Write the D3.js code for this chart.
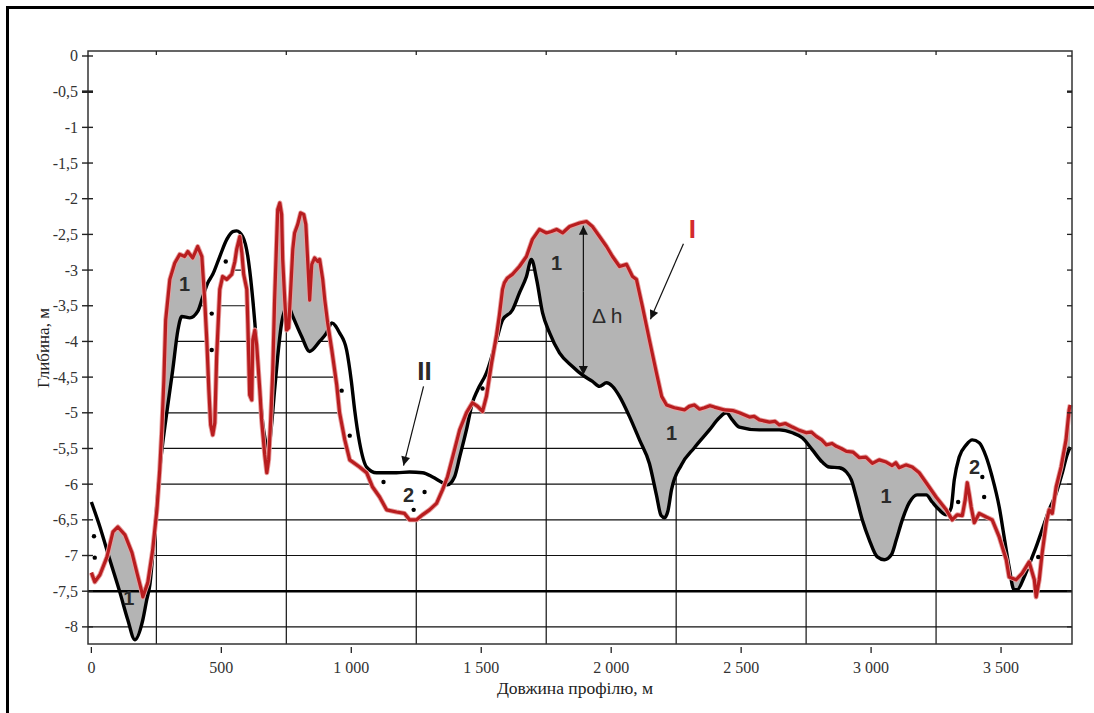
<!DOCTYPE html>
<html>
<head>
<meta charset="utf-8">
<script src="https://cdn.jsdelivr.net/npm/d3@7"></script>
<style>
body { margin: 0; background: #fff; }
text.serif { font-family: "Liberation Serif", "Times New Roman", "DejaVu Serif", serif; }
text.sans { font-family: "Liberation Sans", Arial, "DejaVu Sans", sans-serif; }
</style>
</head>
<body>
<div id="chart"></div>
<script>
// Bottom profile II (black): [distance, m ; depth, m]
var profileII = [
    [0, -6.25], [33, -6.6], [71, -7.06], [110, -7.52], [140, -7.9], [167, -8.18], [198, -7.9],
    [213, -7.62], [225, -7.41], [244, -6.64], [263, -5.8], [290, -5.0], [313, -4.4], [333, -3.84],
    [348, -3.65], [379, -3.67], [409, -3.58], [429, -3.37], [448, -3.18], [467, -3.06], [494, -2.81],
    [521, -2.57], [544, -2.46], [559, -2.45], [582, -2.53], [602, -2.81], [609, -3.0], [629, -3.74],
    [648, -4.68], [659, -5.14], [671, -5.42], [679, -5.56], [694, -5.14], [705, -4.68], [717, -4.21],
    [732, -3.74], [744, -3.56], [755, -3.49], [775, -3.65], [809, -3.93], [840, -4.14], [878, -4.0],
    [905, -3.88], [925, -3.74], [955, -3.88], [982, -4.12], [1000, -4.55], [1013, -4.96], [1032, -5.42],
    [1059, -5.76], [1097, -5.84], [1174, -5.84], [1224, -5.83], [1274, -5.84], [1313, -5.9],
    [1351, -5.98], [1370, -6.01], [1397, -5.9], [1417, -5.62], [1443, -5.24], [1466, -4.86],
    [1486, -4.68], [1520, -4.44], [1559, -3.98], [1582, -3.7], [1620, -3.56], [1647, -3.32],
    [1674, -3.09], [1693, -2.85], [1713, -3.13], [1736, -3.6], [1763, -3.88], [1801, -4.16],
    [1851, -4.35], [1889, -4.47], [1928, -4.56], [1955, -4.63], [1982, -4.58], [2005, -4.63],
    [2032, -4.77], [2070, -5.05], [2109, -5.38], [2147, -5.71], [2174, -6.15], [2192, -6.44],
    [2205, -6.47], [2218, -6.38], [2232, -6.08], [2270, -5.73], [2320, -5.49], [2378, -5.24], [2416, -5.07],
    [2443, -5.0], [2466, -5.1], [2493, -5.2], [2570, -5.24], [2647, -5.24], [2697, -5.28],
    [2735, -5.35], [2774, -5.52], [2812, -5.69], [2839, -5.76], [2878, -5.77], [2905, -5.83],
    [2924, -5.94], [2943, -6.18], [2966, -6.5], [2993, -6.78], [3024, -7.02], [3051, -7.06],
    [3078, -6.99], [3097, -6.78], [3120, -6.5], [3147, -6.26], [3177, -6.15], [3212, -6.15],
    [3235, -6.25], [3262, -6.36], [3289, -6.43], [3308, -6.33], [3320, -5.94], [3339, -5.62],
    [3366, -5.45], [3389, -5.38], [3416, -5.42], [3443, -5.62], [3466, -5.9], [3493, -6.32],
    [3512, -6.74], [3531, -7.16], [3550, -7.48], [3562, -7.48], [3589, -7.3], [3608, -7.13],
    [3635, -6.88], [3658, -6.64], [3685, -6.36], [3712, -6.13], [3735, -5.85], [3754, -5.59],
    [3766, -5.48]
];

// Bottom profile I (red)
var profileI = [
    [0, -7.24], [13, -7.37], [33, -7.27], [60, -7.02], [83, -6.67], [102, -6.6], [129, -6.71],
    [156, -6.96], [175, -7.24], [194, -7.51], [198, -7.58], [217, -7.38], [236, -6.92], [252, -6.36],
    [263, -5.8], [271, -5.24], [279, -4.54], [286, -3.7], [302, -3.13], [321, -2.9], [340, -2.78],
    [359, -2.81], [371, -2.74], [379, -2.78], [390, -2.83], [409, -2.67], [425, -2.81], [429, -3.04],
    [436, -3.42], [444, -3.98], [452, -4.68], [459, -5.17], [467, -5.31], [475, -5.14], [482, -4.21],
    [494, -3.27], [505, -3.09], [521, -3.13], [540, -3.06], [552, -2.88], [559, -2.71], [571, -2.53],
    [579, -2.76], [586, -3.06], [598, -3.27], [602, -3.74], [609, -4.75], [617, -4.82], [621, -3.98],
    [629, -3.84], [636, -4.05], [648, -4.68], [655, -5.1], [667, -5.59], [675, -5.84], [682, -5.66],
    [690, -5.1], [698, -4.4], [705, -3.42], [713, -2.57], [717, -2.15], [725, -2.06], [732, -2.22],
    [736, -2.85], [744, -3.42], [751, -3.84], [759, -3.81], [767, -3.27], [775, -2.71], [782, -2.48],
    [794, -2.36], [805, -2.2], [817, -2.22], [825, -2.36], [832, -2.85], [840, -3.42], [848, -2.92],
    [859, -2.83], [871, -2.88], [878, -2.85], [890, -3.13], [898, -3.42], [909, -3.74], [925, -4.12],
    [944, -4.61], [955, -5.0], [975, -5.38], [994, -5.66], [1032, -5.76], [1059, -5.84], [1082, -6.04],
    [1109, -6.18], [1136, -6.36], [1174, -6.39], [1205, -6.41], [1224, -6.5], [1251, -6.5],
    [1274, -6.43], [1301, -6.36], [1328, -6.27], [1351, -6.08], [1370, -5.9], [1390, -5.62],
    [1417, -5.24], [1443, -5.0], [1466, -4.86], [1486, -4.91], [1505, -4.98], [1520, -4.77],
    [1540, -4.3], [1559, -3.91], [1570, -3.63], [1582, -3.27], [1589, -3.18], [1601, -3.11],
    [1620, -3.06], [1647, -2.95], [1674, -2.81], [1697, -2.57], [1724, -2.43], [1751, -2.48],
    [1770, -2.46], [1790, -2.43], [1813, -2.48], [1840, -2.39], [1878, -2.34], [1905, -2.32],
    [1928, -2.39], [1955, -2.53], [1982, -2.67], [2005, -2.81], [2032, -2.95], [2059, -2.92],
    [2082, -3.09], [2097, -3.13], [2120, -3.51], [2147, -3.98], [2174, -4.44], [2194, -4.77],
    [2213, -4.89], [2243, -4.93], [2282, -4.96], [2300, -4.91], [2320, -4.89], [2340, -4.95],
    [2359, -4.93], [2380, -4.9], [2397, -4.92], [2436, -4.96], [2470, -4.97], [2493, -5.0],
    [2532, -5.06], [2550, -5.05], [2570, -5.1], [2609, -5.13], [2630, -5.12], [2647, -5.17],
    [2670, -5.15], [2697, -5.2], [2720, -5.24], [2751, -5.28], [2770, -5.27], [2789, -5.33],
    [2810, -5.38], [2828, -5.45], [2850, -5.43], [2866, -5.47], [2885, -5.5], [2905, -5.54],
    [2930, -5.55], [2955, -5.63], [2980, -5.62], [3005, -5.71], [3031, -5.66], [3058, -5.69],
    [3081, -5.74], [3095, -5.7], [3108, -5.77], [3135, -5.73], [3158, -5.76], [3185, -5.84],
    [3212, -5.98], [3250, -6.18], [3289, -6.36],
    [3312, -6.5], [3331, -6.43], [3351, -6.44], [3362, -6.22], [3370, -5.98], [3378, -6.15],
    [3385, -6.32], [3397, -6.54], [3416, -6.41], [3443, -6.46], [3466, -6.5], [3493, -6.74],
    [3520, -7.06], [3531, -7.3], [3558, -7.34], [3581, -7.25], [3608, -7.09], [3628, -7.34],
    [3635, -7.58], [3647, -7.34], [3658, -6.97], [3674, -6.54], [3685, -6.36], [3697, -6.41],
    [3712, -6.04], [3731, -5.76], [3750, -5.38], [3762, -4.96], [3766, -4.89]
];

// dots marking the zones of type 2
var zoneDots = [
    [10, -6.73], [13, -7.03], [463, -3.61], [463, -4.12], [517, -2.88], [963, -4.69], [994, -5.32],
    [1124, -5.97], [1282, -6.11], [1240, -6.36], [1505, -4.66], [3335, -6.25], [3428, -5.9],
    [3435, -6.18], [3643, -7.02]
];

// zone numbers
var zoneLabels = [
    [359, -3.2, "1"], [144, -7.59, "1"], [1790, -2.9, "1"], [2232, -5.29, "1"], [3058, -6.16, "1"],
    [1220, -6.15, "2"], [3398, -5.76, "2"]
];

var xTicks = [0, 500, 1000, 1500, 2000, 2500, 3000, 3500];
var xGrid = [250, 750, 1250, 1750, 2250, 2750, 3250];
var yTicks = [0, -0.5, -1, -1.5, -2, -2.5, -3, -3.5, -4, -4.5, -5, -5.5, -6, -6.5, -7, -7.5, -8];
var datumLevel = -7.5;

var width = 1094, height = 713;
var plotLeft = 88, plotRight = 1072, plotTop = 51, plotBottom = 644;

var x = d3.scaleLinear().domain([-13, 3773]).range([plotLeft, plotRight]);
var y = d3.scaleLinear().domain([0.07, -8.24]).range([plotTop, plotBottom]);

var svg = d3.select("#chart").append("svg")
    .attr("width", width)
    .attr("height", height);

// outer frame (top and left only)
svg.append("line").attr("x1", 6).attr("x2", width).attr("y1", 7.5).attr("y2", 7.5)
    .attr("stroke", "#000").attr("stroke-width", 3);
svg.append("line").attr("x1", 7.5).attr("x2", 7.5).attr("y1", 6).attr("y2", height)
    .attr("stroke", "#000").attr("stroke-width", 3);

// linear interpolation on a profile
function depthAt(series, m) {
    if (m <= series[0][0]) return series[0][1];
    var last = series[series.length - 1];
    if (m >= last[0]) return last[1];
    var i = d3.bisector(d => d[0]).right(series, m);
    var a = series[i - 1], b = series[i];
    var t = (m - a[0]) / (b[0] - a[0]);
    return a[1] + t * (b[1] - a[1]);
}

// common sample positions for filled zones and the grid clip
var samples = d3.range(-13, 3773, 2).concat([3773]);
var joined = samples.map(m => ({ m: m, b: depthAt(profileII, m), r: depthAt(profileI, m) }));

// grid only below both profiles
var clipArea = d3.area()
    .x(d => x(d.m))
    .y0(plotBottom)
    .y1(d => y(Math.min(d.b, d.r)));

svg.append("clipPath").attr("id", "belowClip")
    .append("path").attr("d", clipArea(joined));

var grid = svg.append("g").attr("clip-path", "url(#belowClip)")
    .attr("stroke", "#111").attr("stroke-width", 1.2);

grid.selectAll("line.h")
    .data(yTicks.filter(v => v !== datumLevel))
    .enter().append("line")
    .attr("class", "h")
    .attr("x1", plotLeft).attr("x2", plotRight)
    .attr("y1", d => y(d)).attr("y2", d => y(d));

grid.selectAll("line.v")
    .data(xGrid)
    .enter().append("line")
    .attr("class", "v")
    .attr("x1", d => x(d)).attr("x2", d => x(d))
    .attr("y1", plotTop).attr("y2", plotBottom);

// gray zones where profile I lies above profile II
var grayArea = d3.area()
    .x(d => x(d.m))
    .y0(d => y(d.b))
    .y1(d => y(Math.max(d.b, d.r)));

svg.append("path")
    .datum(joined.filter(d => d.m >= 0 && d.m <= 3766))
    .attr("d", grayArea)
    .attr("fill", "#b4b4b4");

// datum line
svg.append("line")
    .attr("x1", plotLeft).attr("x2", plotRight)
    .attr("y1", y(datumLevel)).attr("y2", y(datumLevel))
    .attr("stroke", "#000").attr("stroke-width", 2.6);

// profiles
var lineII = d3.line().x(d => x(d[0])).y(d => y(d[1])).curve(d3.curveMonotoneX);
var lineI = d3.line().x(d => x(d[0])).y(d => y(d[1]));

svg.append("path").datum(profileII)
    .attr("d", lineII)
    .attr("fill", "none")
    .attr("stroke", "#000")
    .attr("stroke-width", 3.4)
    .attr("stroke-linejoin", "round");

svg.append("path").datum(profileI)
    .attr("d", lineI)
    .attr("fill", "none")
    .attr("stroke", "#e8a0a0")
    .attr("stroke-width", 5)
    .attr("stroke-linejoin", "round");

svg.append("path").datum(profileI)
    .attr("d", lineI)
    .attr("fill", "none")
    .attr("stroke", "#b81d1f")
    .attr("stroke-width", 3.2)
    .attr("stroke-linejoin", "round");

// dots
svg.selectAll("circle.dot")
    .data(zoneDots)
    .enter().append("circle")
    .attr("class", "dot")
    .attr("cx", d => x(d[0]))
    .attr("cy", d => y(d[1]))
    .attr("r", 2.2)
    .attr("fill", "#000");

// zone numbers
svg.selectAll("text.zone")
    .data(zoneLabels)
    .enter().append("text")
    .attr("class", "zone sans")
    .attr("x", d => x(d[0]))
    .attr("y", d => y(d[1]))
    .attr("text-anchor", "middle")
    .attr("dominant-baseline", "central")
    .style("font-weight", "bold")
    .style("font-size", "20px")
    .attr("fill", "#2a2a2a")
    .text(d => d[2]);

// arrow heads
var defs = svg.append("defs");
defs.append("marker")
    .attr("id", "arrowHead")
    .attr("viewBox", "0 0 10 10")
    .attr("refX", 10).attr("refY", 5)
    .attr("markerWidth", 11).attr("markerHeight", 9)
    .attr("markerUnits", "userSpaceOnUse")
    .attr("orient", "auto")
    .append("path").attr("d", "M0,0 L10,5 L0,10 Z").attr("fill", "#111");

function arrow(m1, d1, m2, d2) {
    svg.append("line")
        .attr("x1", x(m1)).attr("y1", y(d1))
        .attr("x2", x(m2)).attr("y2", y(d2))
        .attr("stroke", "#111").attr("stroke-width", 1.2)
        .attr("marker-end", "url(#arrowHead)");
}

// profile I callout
svg.append("text")
    .attr("class", "sans")
    .attr("x", x(2312)).attr("y", y(-2.43))
    .attr("text-anchor", "middle").attr("dominant-baseline", "central")
    .style("font-weight", "bold").style("font-size", "26px")
    .attr("fill", "#d42a2e")
    .text("I");
arrow(2278, -2.63, 2151, -3.69);

// profile II callout
svg.append("text")
    .attr("class", "sans")
    .attr("x", x(1282)).attr("y", y(-4.42))
    .attr("text-anchor", "middle").attr("dominant-baseline", "central")
    .style("font-weight", "bold").style("font-size", "26px")
    .attr("fill", "#2a2a2a")
    .text("II");
arrow(1278, -4.63, 1201, -5.74);

// delta h
arrow(1893, -3.3, 1893, -2.38);
arrow(1893, -3.3, 1893, -4.47);
svg.append("text")
    .attr("class", "sans")
    .attr("x", x(1985)).attr("y", y(-3.64))
    .attr("text-anchor", "middle").attr("dominant-baseline", "central")
    .style("font-size", "21px")
    .attr("fill", "#2a2a2a")
    .text("Δ h");

// plot frame
svg.append("rect")
    .attr("x", plotLeft).attr("y", plotTop)
    .attr("width", plotRight - plotLeft).attr("height", plotBottom - plotTop)
    .attr("fill", "none").attr("stroke", "#333").attr("stroke-width", 1.5);

// left axis ticks and labels
var fmtY = d => String(d).replace(".", ",");
svg.selectAll("line.ly").data(yTicks).enter().append("line")
    .attr("x1", plotLeft - 6).attr("x2", plotLeft + 5)
    .attr("y1", d => y(d)).attr("y2", d => y(d))
    .attr("stroke", "#222").attr("stroke-width", d => d === -0.5 ? 2.6 : 1.4);

svg.selectAll("text.ly").data(yTicks).enter().append("text")
    .attr("class", "ly serif")
    .attr("x", 78).attr("y", d => y(d))
    .attr("text-anchor", "end").attr("dominant-baseline", "central")
    .style("font-size", "16px").attr("fill", "#333")
    .text(fmtY);

// right axis ticks
svg.selectAll("line.ry").data(yTicks).enter().append("line")
    .attr("x1", plotRight - 5).attr("x2", plotRight)
    .attr("y1", d => y(d)).attr("y2", d => y(d))
    .attr("stroke", "#222").attr("stroke-width", d => d === -0.5 ? 2.4 : 1.3);

// top axis ticks
svg.selectAll("line.tx").data(xGrid).enter().append("line")
    .attr("x1", d => x(d)).attr("x2", d => x(d))
    .attr("y1", plotTop).attr("y2", plotTop + 4)
    .attr("stroke", "#222").attr("stroke-width", 1.3);

// bottom axis ticks and labels
var locale = d3.formatLocale({ decimal: ",", thousands: " ", grouping: [3], currency: ["", ""] });
var fmtX = locale.format(",");

svg.selectAll("line.bx").data(xTicks).enter().append("line")
    .attr("x1", d => x(d)).attr("x2", d => x(d))
    .attr("y1", plotBottom + 3).attr("y2", plotBottom + 9)
    .attr("stroke", "#222").attr("stroke-width", 1.3);

svg.selectAll("text.bx").data(xTicks).enter().append("text")
    .attr("class", "bx serif")
    .attr("x", d => x(d)).attr("y", 672.5)
    .attr("text-anchor", "middle")
    .style("font-size", "16px").attr("fill", "#333")
    .text(fmtX);

// axis titles
svg.append("text")
    .attr("class", "serif")
    .attr("x", 575).attr("y", 694)
    .attr("text-anchor", "middle")
    .style("font-size", "17.5px").attr("fill", "#222")
    .text("Довжина профілю, м");

svg.append("text")
    .attr("class", "serif")
    .attr("transform", "translate(49,348) rotate(-90)")
    .attr("text-anchor", "middle")
    .style("font-size", "17px").attr("fill", "#222")
    .text("Глибина, м");
</script>
</body>
</html>
